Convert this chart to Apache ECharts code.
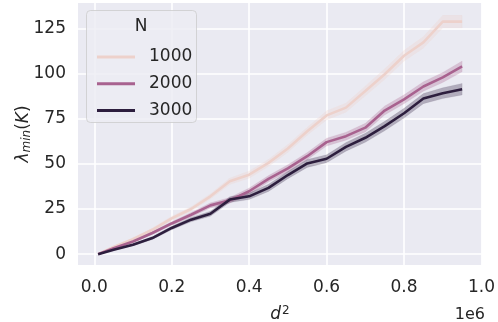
<!DOCTYPE html>
<html>
<head>
<meta charset="utf-8">
<script src="https://cdn.jsdelivr.net/npm/echarts@6/dist/echarts.min.js"></script>
<style>
html, body { margin: 0; padding: 0; background: #fff; }
#main { width: 498px; height: 322px; }
</style>
</head>
<body>
<div id="main"></div>
<script>
// x values (d^2)
const dSquared = [10000, 50000, 100000, 150000, 200000, 250000, 300000, 350000, 400000, 450000,
	500000, 550000, 600000, 650000, 700000, 750000, 800000, 850000, 900000, 950000];

// mean lambda_min per N
const n1000 = [0, 4, 8.3, 13.5, 19.8, 25, 32, 40.3, 44, 50.5, 58.5, 68, 76.8, 81.1, 90.3, 99.6, 109.8, 117.2, 128.7, 128.7];
const n2000 = [0, 3.3, 7, 11.7, 17, 21.8, 27, 29.8, 34.8, 41.7, 47.5, 54.2, 62, 65.3, 70, 79.5, 85.7, 92.8, 97.8, 103.9];
const n3000 = [0, 2.4, 5.2, 8.9, 14.5, 19.1, 22.4, 30.2, 32, 36.7, 43.8, 50.2, 52.8, 59.4, 64.4, 70.9, 78, 86.1, 89.1, 91.3];

// half width of the confidence band
const ci1000 = [0, 0.5, 0.8, 1, 1.2, 1.3, 1.5, 1.8, 2, 2, 2.2, 2.2, 2.5, 2.5, 2.8, 3, 3, 3.2, 3.5, 3.5];
const ci2000 = [0, 0.4, 0.6, 0.8, 1, 1.2, 1.4, 1.6, 1.8, 1.8, 2, 2, 2.2, 2.2, 2.4, 2.5, 2.5, 2.6, 2.8, 3];
const ci3000 = [0, 0.4, 0.6, 0.8, 1, 1.2, 1.4, 1.6, 1.8, 2, 2, 2.2, 2.2, 2.4, 2.5, 2.6, 2.7, 2.8, 3, 3.2];

const xTicks = [0, 200000, 400000, 600000, 800000, 1000000];
const yTicks = [0, 25, 50, 75, 100, 125];

const groups = [
	{ name: "1000", y: n1000, ci: ci1000, color: "#edd1cb" },
	{ name: "2000", y: n2000, ci: ci2000, color: "#a8628f" },
	{ name: "3000", y: n3000, ci: ci3000, color: "#2d1e3e" }
];

const textColor = "#262626";
const font = "DejaVu Sans";

// 置信带：用 custom 系列画成一个多边形
const makeBand = (g) => {
	const rows = dSquared.map((x, i) => [x, g.y[i] - g.ci[i], g.y[i] + g.ci[i]]);
	return {
		type: "custom",
		silent: true,
		z: 1,
		data: rows,
		encode: { x: 0, y: [1, 2] },
		renderItem: (params, api) => {
			if (params.dataIndex !== 0) return;
			const upper = rows.map((r) => api.coord([r[0], r[2]]));
			const lower = rows.map((r) => api.coord([r[0], r[1]])).reverse();
			return {
				type: "polygon",
				shape: { points: upper.concat(lower) },
				style: { fill: g.color, opacity: 0.3, stroke: g.color, lineWidth: 0.8, strokeOpacity: 0.3 }
			};
		}
	};
};

const series = [];
groups.forEach((g) => series.push(makeBand(g)));
groups.forEach((g) => {
	series.push({
		name: g.name,
		type: "line",
		data: dSquared.map((x, i) => [x, g.y[i]]),
		symbol: "none",
		color: g.color,
		lineStyle: { width: 2.6, color: g.color },
		z: 2
	});
});

const chart = echarts.init(document.getElementById("main"));
chart.setOption({
	animation: false,
	backgroundColor: "#ffffff",
	grid: {
		left: 78, right: 14, top: 3, bottom: 57,
		show: true, backgroundColor: "#eaeaf2", borderWidth: 0
	},
	xAxis: {
		type: "value",
		min: -42000,
		max: 1000000,
		axisLine: { show: false },
		axisTick: { show: false, customValues: xTicks },
		axisLabel: {
			customValues: xTicks,
			margin: 14,
			color: textColor, fontFamily: font, fontSize: 17,
			formatter: (v) => (v / 1e6).toFixed(1)
		},
		splitLine: { show: true, lineStyle: { color: "#ffffff", width: 1.6 } }
	},
	yAxis: {
		type: "value",
		min: -6,
		max: 139,
		axisLine: { show: false },
		axisTick: { show: false, customValues: yTicks },
		axisLabel: {
			customValues: yTicks,
			margin: 12,
			color: textColor, fontFamily: font, fontSize: 17
		},
		splitLine: { show: true, lineStyle: { color: "#ffffff", width: 1.6 } }
	},
	legend: {
		data: ["1000", "2000", "3000"],
		orient: "vertical",
		left: 92,
		top: 42,
		z: 4,
		icon: "rect",
		itemWidth: 38,
		itemHeight: 3,
		itemGap: 6.7,
		textStyle: {
			color: textColor, fontFamily: font, fontSize: 17,
			lineHeight: 20, padding: [0, 0, 0, 9]
		}
	},
	graphic: [
		{
			type: "rect",
			left: 86, top: 10, z: 3,
			shape: { width: 110, height: 112, r: 4 },
			style: { fill: "rgba(236,236,243,0.8)", stroke: "rgba(204,204,204,0.8)", lineWidth: 1 }
		},
		{
			type: "text",
			x: 141, y: 27, z: 5,
			style: {
				text: "N", fill: textColor, font: "17px DejaVu Sans",
				align: "center", verticalAlign: "middle"
			}
		},
		{
			type: "text",
			x: 280, y: 315, z: 5,
			style: {
				text: "{i|d}{s|2}",
				align: "center", verticalAlign: "middle",
				rich: {
					i: { fontFamily: font, fontStyle: "italic", fontSize: 17, fill: textColor },
					s: { fontFamily: font, fontSize: 12, fill: textColor, padding: [0, 0, 9, 1] }
				}
			}
		},
		{
			type: "text",
			x: 485, y: 315, z: 5,
			style: {
				text: "1e6", fill: textColor, font: "16px DejaVu Sans",
				align: "right", verticalAlign: "middle"
			}
		},
		{
			type: "text",
			x: 24, y: 134, z: 5, rotation: Math.PI / 2,
			style: {
				text: "{i|λ}{sub|min}{n|(}{i|K}{n|)}",
				align: "center", verticalAlign: "middle",
				rich: {
					i: { fontFamily: font, fontStyle: "italic", fontSize: 17, fill: textColor },
					sub: { fontFamily: font, fontStyle: "italic", fontSize: 12, fill: textColor, padding: [6, 0, 0, 0] },
					n: { fontFamily: font, fontSize: 17, fill: textColor }
				}
			}
		}
	],
	series: series
});
</script>
</body>
</html>
